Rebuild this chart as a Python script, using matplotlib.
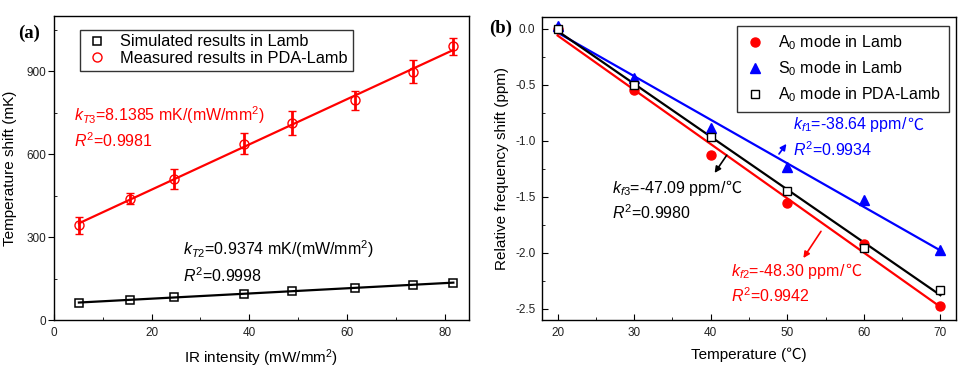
import numpy as np
import matplotlib
matplotlib.use('Agg')
from matplotlib import pyplot as plt
from matplotlib.ticker import MultipleLocator
from matplotlib.transforms import ScaledTranslation

plt.rcParams['font.family'] = ['Liberation Sans', 'Noto Sans CJK SC', 'DejaVu Sans']
plt.rcParams['mathtext.fontset'] = 'custom'
plt.rcParams['mathtext.rm'] = 'Liberation Sans'
plt.rcParams['mathtext.it'] = 'Liberation Sans:italic'

# panel (a) data
ir_intensity = [5.1, 15.6, 24.6, 38.9, 48.7, 61.6, 73.5, 81.8]
simulated_shift = [63, 72, 83, 95, 104, 117, 127, 135]
measured_shift = [343, 438, 511, 638, 713, 795, 898, 990]
measured_err = [30, 20, 36, 37, 45, 35, 42, 30]

# panel (b) data
temperature = [20, 30, 40, 50, 60, 70]
a0_lamb = [0.0, -0.55, -1.13, -1.56, -1.925, -2.48]
s0_lamb = [0.02, -0.44, -0.89, -1.235, -1.53, -1.98]
a0_pda = [0.0, -0.50, -0.97, -1.45, -1.96, -2.33]

FS = 11.5


def fit_line(ax, x, y, color):
    k, b = np.polyfit(x, y, 1)
    xs = np.array([min(x), max(x)])
    ax.plot(xs, k * xs + b, color=color, lw=1.6, zorder=2)


def style_axes(ax):
    for s in ax.spines.values():
        s.set_linewidth(1.0)
    ax.tick_params(which='both', direction='in', top=False, right=False,
                   labelsize=8.5, labelcolor='#222222', pad=5)
    ax.tick_params(which='major', length=4)
    ax.tick_params(which='minor', length=2.5)


def slope_text(ax, x, y, math_part, unit, color):
    # mathtext cannot fall back to a CJK font, so the degree sign goes separately
    t = ax.text(x, y, math_part, color=color, fontsize=FS, va='baseline')
    w = t.get_window_extent(fig.canvas.get_renderer()).width - 1
    ax.text(x, y, unit, color=color, fontsize=FS, va='baseline',
            transform=ax.transData + ScaledTranslation(w / fig.dpi, 0, fig.dpi_scale_trans))


fig = plt.figure(figsize=(9.64, 3.70), dpi=100)

# ---- (a)
ax1 = fig.add_axes([0.056, 0.1351, 0.4305, 0.8217])
fit_line(ax1, ir_intensity, measured_shift, 'red')
fit_line(ax1, ir_intensity, simulated_shift, 'black')
ax1.plot(ir_intensity, simulated_shift, 's', ms=5.8, mfc='none', mec='black',
         mew=1.1, zorder=3, label='Simulated results in Lamb')
ax1.errorbar(ir_intensity, measured_shift, yerr=measured_err, fmt='o', ms=6.5,
             mfc='none', mec='red', mew=1.0, ecolor='red', elinewidth=2,
             capsize=3, capthick=2, zorder=3, label='Measured results in PDA-Lamb')
ax1.set_xlim(0, 85)
ax1.set_ylim(0, 1100)
ax1.set_xticks([0, 20, 40, 60, 80])
ax1.set_yticks([0, 300, 600, 900])
ax1.xaxis.set_minor_locator(MultipleLocator(10))
ax1.yaxis.set_minor_locator(MultipleLocator(150))
style_axes(ax1)
ax1.tick_params(axis='y', which='major', direction='out', pad=1.5)
ax1.set_xlabel('IR intensity (mW/mm$^2$)', fontsize=11, labelpad=6)
ax1.set_ylabel('Temperature shift (mK)', fontsize=11, labelpad=7)
h, l = ax1.get_legend_handles_labels()
h = [h[0], h[1][0]]
leg1 = ax1.legend(h, l, loc='upper left', bbox_to_anchor=(0.062, 0.955),
                  fontsize=11.8, frameon=True, fancybox=False, edgecolor='black',
                  borderaxespad=0, handletextpad=0.6, labelspacing=0.12,
                  borderpad=0.28, handlelength=1.6)
leg1.get_frame().set_linewidth(1.0)
ax1.text(4, 740, r'$k_{T3}$=8.1385 mK/(mW/mm$^2$)', color='red', fontsize=FS,
         va='center')
ax1.text(4, 650, r'$R^2$=0.9981', color='red', fontsize=FS, va='center')
ax1.text(26.5, 258, r'$k_{T2}$=0.9374 mK/(mW/mm$^2$)', color='black',
         fontsize=FS, va='center')
ax1.text(26.5, 160, r'$R^2$=0.9998', color='black', fontsize=FS, va='center')
fig.text(29.5 / 964, 1 - 33 / 370, '(a)', fontsize=13.5, fontweight='bold',
         family='Liberation Serif', ha='center', va='center')

# ---- (b)
ax2 = fig.add_axes([0.5626, 0.1343, 0.4288, 0.8189])
fit_line(ax2, temperature, a0_lamb, 'red')
fit_line(ax2, temperature, s0_lamb, 'blue')
fit_line(ax2, temperature, a0_pda, 'black')
ax2.plot(temperature, a0_lamb, 'o', ms=6.5, color='red', mec='red', zorder=3,
         label='A$_0$ mode in Lamb')
ax2.plot(temperature, s0_lamb, '^', ms=7.5, color='blue', mec='blue', zorder=3,
         label='S$_0$ mode in Lamb')
ax2.plot(temperature, a0_pda, 's', ms=5.8, mfc='white', mec='black', mew=1.0,
         zorder=4, label='A$_0$ mode in PDA-Lamb')
ax2.set_xlim(18, 72)
ax2.set_ylim(-2.605, 0.1)
ax2.set_xticks(temperature)
ax2.set_yticks([0.0, -0.5, -1.0, -1.5, -2.0, -2.5])
ax2.set_yticklabels(['0.0', '-0.5', '-1.0', '-1.5', '-2.0', '-2.5'])
ax2.xaxis.set_minor_locator(MultipleLocator(5))
ax2.yaxis.set_minor_locator(MultipleLocator(0.25))
style_axes(ax2)
ax2.set_xlabel('Temperature (℃)', fontsize=11, labelpad=6)
ax2.set_ylabel('Relative frequency shift (ppm)', fontsize=11, labelpad=4)
leg2 = ax2.legend(loc='upper right', bbox_to_anchor=(0.9845, 0.972),
                  fontsize=FS, frameon=True, fancybox=False, edgecolor='black',
                  borderaxespad=0, handletextpad=0.85, labelspacing=0.45,
                  borderpad=0.5, handlelength=1.25)
leg2.get_frame().set_linewidth(1.0)

slope_text(ax2, 50.8, -0.90, r'$k_{f1}$=-38.64 ppm/', '℃', 'blue')
ax2.text(50.8, -1.14, r'$R^2$=0.9934', color='blue', fontsize=FS, va='baseline')
ax2.annotate('', xy=(50.1, -1.01), xytext=(48.7, -1.14),
             arrowprops=dict(arrowstyle='-|>', color='blue', lw=1.2,
                             mutation_scale=9))
slope_text(ax2, 27.1, -1.47, r'$k_{f3}$=-47.09 ppm/', '℃', 'black')
ax2.text(27.1, -1.70, r'$R^2$=0.9980', color='black', fontsize=FS, va='baseline')
ax2.annotate('', xy=(40.3, -1.31), xytext=(42.3, -1.11),
             arrowprops=dict(arrowstyle='-|>', color='black', lw=1.2,
                             mutation_scale=9))
slope_text(ax2, 42.7, -2.21, r'$k_{f2}$=-48.30 ppm/', '℃', 'red')
ax2.text(42.7, -2.445, r'$R^2$=0.9942', color='red', fontsize=FS, va='baseline')
ax2.annotate('', xy=(51.9, -2.07), xytext=(54.6, -1.79),
             arrowprops=dict(arrowstyle='-|>', color='red', lw=1.2,
                             mutation_scale=9))
fig.text(501 / 964, 1 - 28 / 370, '(b)', fontsize=13.5, fontweight='bold',
         family='Liberation Serif', ha='center', va='center')

fig.savefig('out.png', dpi=100)
